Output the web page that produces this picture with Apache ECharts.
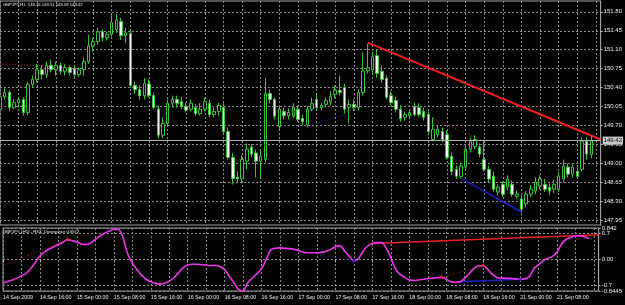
<!DOCTYPE html>
<html>
<head>
<meta charset="utf-8">
<script src="https://cdn.jsdelivr.net/npm/echarts@6/dist/echarts.min.js"></script>
<style>
html, body { margin: 0; padding: 0; background: #000; }
#chart { width: 625px; height: 305px; }
</style>
</head>
<body>
<div id="chart"></div>
<script>
// GBPJPY H1, 14 Sep 08:00 .. 21 Sep 15:00 (128 bars)
const opens = [150.00,150.23,150.31,150.03,150.12,150.18,149.94,150.46,150.55,150.73,150.64,150.81,150.73,150.81,150.70,150.77,150.75,150.64,150.73,150.88,
  151.17,151.25,151.43,151.32,151.38,151.47,151.62,151.36,151.40,150.44,150.36,150.25,150.47,150.25,150.00,149.52,149.74,150.11,150.18,150.14,
  150.05,150.00,150.03,149.92,150.00,150.11,149.90,149.96,150.03,149.59,149.11,148.74,148.71,149.04,149.30,149.19,149.04,149.07,150.29,150.18,
  149.68,149.96,149.88,149.87,150.00,149.83,149.72,150.00,150.18,150.03,150.09,150.14,150.27,150.35,150.40,150.03,150.09,150.03,150.31,150.71,
  150.73,150.99,150.70,150.57,150.25,150.16,150.00,149.85,149.88,150.05,150.03,149.96,149.90,149.44,149.53,149.59,149.53,149.13,148.89,148.76,
  148.93,149.26,149.31,149.30,149.07,148.89,148.76,148.47,148.61,148.56,148.61,148.39,148.34,148.25,148.43,148.49,148.58,148.61,148.56,148.52,
  148.52,148.71,148.93,148.80,148.85,148.89,149.41,149.16];
const closes = [150.23,150.31,150.03,150.12,150.18,149.94,150.46,150.55,150.73,150.64,150.81,150.73,150.81,150.70,150.77,150.68,150.64,150.73,150.88,151.17,
  151.25,151.43,151.32,151.38,151.60,151.65,151.36,151.41,150.44,150.36,150.25,150.47,150.25,150.03,149.52,149.74,150.11,150.18,150.11,150.05,
  149.98,150.11,149.92,150.00,150.14,149.90,149.96,150.07,149.59,149.11,148.72,148.71,149.07,149.26,149.17,149.04,149.13,150.29,150.18,149.87,
  150.00,149.88,149.94,150.03,149.81,149.77,150.00,150.11,150.03,150.07,150.16,150.23,150.35,150.31,150.00,150.09,150.03,150.31,150.71,150.77,
  150.97,150.66,150.55,150.22,150.12,150.00,149.83,149.90,149.94,149.90,149.90,149.85,149.59,149.63,149.63,149.44,149.11,148.85,148.76,148.95,
  149.26,149.41,149.44,149.17,148.89,148.71,148.52,148.56,148.43,148.71,148.43,148.43,148.15,148.43,148.52,148.65,148.71,148.52,148.49,148.61,
  148.76,148.95,148.80,148.93,148.76,149.41,149.17,149.42];
const lows = [149.94,150.18,149.96,150.00,150.03,149.88,149.88,150.40,150.49,150.55,150.58,150.68,150.62,150.64,150.62,150.62,150.60,150.60,150.62,150.84,
  151.06,151.19,151.25,151.27,151.34,151.41,151.28,151.23,150.40,150.29,150.18,150.18,150.22,150.00,149.46,149.46,149.68,150.03,150.03,150.00,
  149.94,149.96,149.88,149.88,149.96,149.85,149.85,149.88,149.55,149.07,148.61,148.63,148.63,148.89,149.11,148.74,148.71,149.02,150.11,149.81,
  149.63,149.81,149.81,149.83,149.77,149.70,149.66,149.96,149.98,149.98,150.03,150.07,150.20,150.25,149.92,149.74,149.96,149.98,150.25,150.66,
  150.64,150.58,150.49,150.18,150.07,149.94,149.77,149.79,149.85,149.87,149.85,149.79,149.52,149.41,149.48,149.39,149.07,148.78,148.71,148.72,
  148.89,149.20,149.26,149.11,148.85,148.65,148.47,148.41,148.38,148.50,148.38,148.34,148.10,148.19,148.38,148.43,148.52,148.47,148.41,148.45,
  148.47,148.65,148.74,148.74,148.71,148.85,149.07,149.09];
const highs = [150.31,150.38,150.36,150.18,150.23,150.22,150.51,150.62,150.84,150.81,150.88,150.92,150.88,150.86,150.84,150.81,150.81,150.77,150.95,151.38,
  151.32,151.51,151.47,151.43,151.74,151.76,151.69,151.51,151.47,150.51,150.44,150.58,150.55,150.31,150.07,149.85,150.18,150.25,150.25,150.23,
  150.12,150.18,150.09,150.11,150.22,150.18,150.03,150.12,150.11,149.66,149.19,148.85,149.15,149.37,149.35,149.26,149.26,150.58,150.36,150.22,
  150.05,150.03,150.01,150.11,150.07,149.90,150.07,150.22,150.29,150.12,150.22,150.33,150.44,150.62,150.47,150.18,150.18,150.36,151.05,151.21,
  151.06,151.10,150.81,150.62,150.33,150.23,150.07,149.96,150.00,150.12,150.11,150.03,149.96,149.85,149.70,149.66,149.61,149.20,148.96,149.02,
  149.33,149.48,149.52,149.37,149.41,148.96,148.84,148.61,148.67,148.78,148.69,148.50,148.41,148.49,148.60,148.74,148.78,148.71,148.63,148.69,
  148.84,149.07,149.00,149.00,148.93,149.48,149.48,149.51];

// RSX_Divergence values, one per bar
const rsx = [-0.63,-0.59,-0.55,-0.50,-0.44,-0.38,-0.24,-0.08,0.09,0.20,0.28,0.34,0.40,0.46,0.53,0.50,0.47,0.41,0.40,0.44,
  0.54,0.63,0.70,0.76,0.80,0.80,0.58,0.15,-0.10,-0.27,-0.42,-0.53,-0.60,-0.64,-0.66,-0.64,-0.58,-0.49,-0.36,-0.22,
  -0.15,-0.13,-0.13,-0.14,-0.15,-0.16,-0.16,-0.19,-0.28,-0.45,-0.62,-0.80,-0.84,-0.62,-0.50,-0.38,-0.25,0.00,0.26,0.30,
  0.31,0.30,0.29,0.27,0.24,0.19,0.18,0.18,0.18,0.19,0.22,0.27,0.34,0.37,0.22,0.09,-0.04,0.03,0.22,0.36,
  0.43,0.45,0.45,0.30,0.05,-0.26,-0.40,-0.48,-0.55,-0.56,-0.55,-0.53,-0.51,-0.50,-0.49,-0.48,-0.53,-0.60,-0.61,-0.60,
  -0.50,-0.38,-0.24,-0.17,-0.17,-0.27,-0.40,-0.48,-0.50,-0.50,-0.51,-0.52,-0.53,-0.52,-0.46,-0.24,-0.14,-0.03,0.03,0.08,
  0.20,0.42,0.54,0.59,0.63,0.63,0.61,0.5577];

// 128 bars + 2 empty slots of chart shift
const slotCount = 130;
const timeLabels = ['14 Sep 2009','14 Sep 16:00','15 Sep 00:00','15 Sep 08:00','15 Sep 16:00','16 Sep 00:00','16 Sep 08:00','16 Sep 16:00',
  '17 Sep 00:00','17 Sep 08:00','17 Sep 16:00','18 Sep 00:00','18 Sep 08:00','18 Sep 16:00','21 Sep 00:00','21 Sep 08:00'];
const priceTicks = [147.95,148.30,148.65,149.00,149.35,149.70,150.05,150.40,150.75,151.10,151.45,151.80];
const rsxEdgeTicks = [0.842,0,-0.8445];
const rsxEdgeLabels = ['0.842','0.00','-0.8445'];
const rsxLevelTicks = [0.7,-0.7];
const rsxLevelLabels = ['0.7','-0.7'];
const bid = 149.42;
const mainTitle = 'GBPJPY,H1  149.16 149.51 149.09 149.42';
const subTitle = 'GBPJPY, (H1) - RSX_Divergence 0.5577';

// divergence lines: [bar, value] pairs
const priceRedTrend = [[79,151.23],[129,149.44]];
const priceRedDot1 = [[0,150.84],[14,150.78]];
const priceRedDot2 = [[93,149.83],[104,149.41]];
const priceBlueDot = [[66,149.69],[74,149.90]];
const priceBlueTrend = [[99,148.72],[112,148.10]];
const rsxRedTrend = [[80,0.43],[129,0.66]];
const rsxRedDot1 = [[0,-0.16],[14,0.53]];
const rsxRedDot2 = [[95,-0.48],[104,-0.17]];
const rsxBlueDot = [[68,0.12],[76,-0.04]];
const rsxBlueTrend = [[99,-0.60],[112,-0.53]];
const rsxRedMarks = [[14,0.56],[95,-0.45],[104,-0.14]];
const rsxBlueMarks = [[76,-0.07],[112,-0.56]];

const cats = [];
for (let i = 0; i < slotCount; i++) cats.push(i);
const bars = opens.map((o, i) => [o, closes[i], lows[i], highs[i]]);

const font = 'Liberation Sans';
const gridColor = '#8a8a8a';
const every4 = (i) => i % 4 === 0;
const every8 = (i) => i % 8 === 0 && i / 8 < timeLabels.length;

function pick(ticks, labels) {
    return (v) => {
        for (let k = 0; k < ticks.length; k++) {
            if (Math.abs(ticks[k] - v) < 1e-6) return labels[k];
        }
        return '';
    };
}

function seg(data, xi, color, width, type) {
    return {
        type: 'line', xAxisIndex: xi, yAxisIndex: xi, data: data,
        symbol: 'none', silent: true, z: 3,
        lineStyle: {color: color, width: width, type: type}
    };
}

const chart = echarts.init(document.getElementById('chart'), null, {renderer: 'canvas'});
chart.setOption({
    backgroundColor: '#000',
    animation: false,
    title: [
        {text: mainTitle, left: 3, top: 3, padding: 0,
            textStyle: {color: '#f0f0f0', fontSize: 4.2, fontWeight: 'normal', fontFamily: font}},
        {text: subTitle, left: 3, top: 230, padding: 0,
            textStyle: {color: '#f0f0f0', fontSize: 4.2, fontWeight: 'normal', fontFamily: font}}
    ],
    grid: [
        {left: 0, right: 24, top: 1, height: 224, show: true, borderColor: '#a0a0a0', borderWidth: 1},
        {left: 0, right: 24, top: 228, height: 63, show: true, borderColor: '#a0a0a0', borderWidth: 1}
    ],
    xAxis: [
        {type: 'category', gridIndex: 0, data: cats, boundaryGap: false,
            axisLine: {show: false}, axisTick: {show: false}, axisLabel: {show: false},
            splitLine: {show: true, interval: every4, lineStyle: {color: gridColor, width: 1, type: [2, 2]}}},
        {type: 'category', gridIndex: 1, data: cats, boundaryGap: false,
            axisLine: {show: false},
            axisTick: {show: true, interval: every8, length: 3, lineStyle: {color: '#bbb'}},
            axisLabel: {interval: every8, formatter: (v, i) => timeLabels[i / 8] || '',
                align: 'left', color: '#f0f0f0', fontSize: 5.3, fontFamily: font, margin: 4},
            splitLine: {show: true, interval: every4, lineStyle: {color: gridColor, width: 1, type: [2, 2]}}}
    ],
    yAxis: [
        {type: 'value', gridIndex: 0, position: 'right', min: 147.86, max: 152.0,
            axisLine: {show: true, lineStyle: {color: '#a0a0a0'}},
            axisTick: {show: true, customValues: priceTicks, length: 2, lineStyle: {color: '#bbb'}},
            axisLabel: {customValues: priceTicks, formatter: (v) => v.toFixed(2),
                color: '#f0f0f0', fontSize: 6, fontFamily: font, margin: 3},
            splitLine: {show: true, lineStyle: {color: gridColor, width: 1, type: [2, 2]}}},
        {type: 'value', gridIndex: 1, position: 'right', min: -0.8445, max: 0.842,
            axisLine: {show: true, lineStyle: {color: '#a0a0a0'}},
            axisTick: {show: true, customValues: rsxEdgeTicks, length: 2, lineStyle: {color: '#bbb'}},
            axisLabel: {customValues: rsxEdgeTicks, showMinLabel: true, showMaxLabel: true,
                formatter: pick(rsxEdgeTicks, rsxEdgeLabels),
                color: '#f0f0f0', fontSize: 6, fontFamily: font, margin: 3},
            splitLine: {show: true, lineStyle: {color: gridColor, width: 1, type: [2, 2]}}},
        {type: 'value', gridIndex: 1, position: 'right', min: -0.8445, max: 0.842,
            axisLine: {show: false},
            axisTick: {show: true, customValues: rsxLevelTicks, length: 2, lineStyle: {color: '#bbb'}},
            axisLabel: {customValues: rsxLevelTicks, formatter: pick(rsxLevelTicks, rsxLevelLabels),
                color: '#f0f0f0', fontSize: 6, fontFamily: font, margin: 3},
            splitLine: {show: true, lineStyle: {color: gridColor, width: 1, type: [2, 2]}}}
    ],
    series: [
        {type: 'candlestick', xAxisIndex: 0, yAxisIndex: 0, data: bars, barWidth: 3, z: 4,
            itemStyle: {color: '#000000', color0: '#f0fff0', borderColor: '#36c636', borderColor0: '#36c636', borderWidth: 1},
            markLine: {
                silent: true, symbol: 'none', precision: 2,
                lineStyle: {color: '#b4b4b4', type: 'solid', width: 1},
                label: {position: 'end', formatter: bid.toFixed(2), distance: 2,
                    backgroundColor: '#c8c8c8', color: '#000', fontSize: 6, fontFamily: font, padding: [1, 1]},
                data: [{yAxis: bid}]
            }},
        seg(priceRedTrend, 0, '#f02020', 2, 'solid'),
        seg(priceRedDot1, 0, '#b02828', 1, [1, 2]),
        seg(priceRedDot2, 0, '#b02828', 1, [1, 2]),
        seg(priceBlueDot, 0, '#2828c0', 1, [1, 2]),
        seg(priceBlueTrend, 0, '#2020c8', 1.5, 'solid'),
        {type: 'line', xAxisIndex: 1, yAxisIndex: 1, data: rsx, symbol: 'none', smooth: 0.3, z: 4,
            lineStyle: {color: '#ee33ee', width: 1.6}},
        seg(rsxRedTrend, 1, '#f02020', 1.5, 'solid'),
        seg(rsxRedDot1, 1, '#b02828', 1, [1, 2]),
        seg(rsxRedDot2, 1, '#b02828', 1, [1, 2]),
        seg(rsxBlueDot, 1, '#2828c0', 1, [1, 2]),
        seg(rsxBlueTrend, 1, '#2020c8', 1.5, 'solid'),
        {type: 'scatter', xAxisIndex: 1, yAxisIndex: 1, data: rsxRedMarks, symbol: 'triangle', symbolSize: 4,
            itemStyle: {color: '#ff2020'}, z: 5, silent: true},
        {type: 'scatter', xAxisIndex: 1, yAxisIndex: 1, data: rsxBlueMarks, symbol: 'triangle', symbolSize: 4, symbolRotate: 180,
            itemStyle: {color: '#2020e0'}, z: 5, silent: true}
    ]
});
</script>
</body>
</html>
